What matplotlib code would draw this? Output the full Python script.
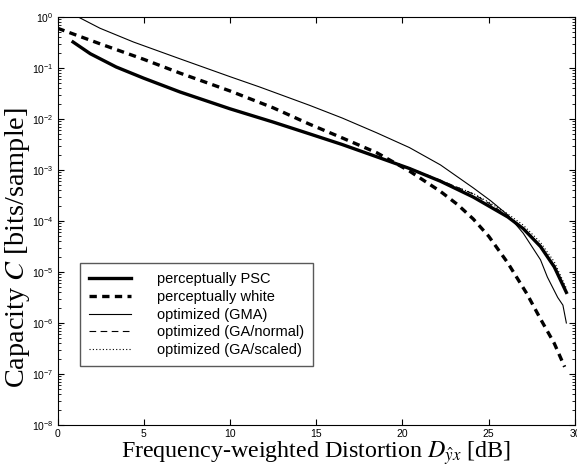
import numpy as np
import matplotlib
matplotlib.use("Agg")
import matplotlib.pyplot as plt
from matplotlib.ticker import LogLocator, NullFormatter

plt.rcParams['font.family'] = ['Liberation Sans', 'DejaVu Sans']
plt.rcParams['mathtext.fontset'] = 'stix'

# distortion [dB] and log10 capacity [bits/sample]
x_psc = [0.9, 1.9, 3.4, 5.0, 7.1, 10.0, 12.5, 14.6, 16.5, 18.5, 20.4, 22.2, 24.1, 26.1, 27.0, 28.0, 28.8, 29.5]
c_psc = [-0.49, -0.72, -0.98, -1.20, -1.47, -1.80, -2.06, -2.29, -2.50, -2.74, -2.97, -3.22, -3.53, -3.92, -4.15, -4.50, -4.90, -5.40]

x_white = [0.0, 2.5, 5.0, 7.1, 10.0, 12.5, 14.6, 16.5, 18.5, 20.4, 22.2, 23.2, 24.1, 25.0, 26.1, 27.2, 28.0, 28.8, 29.4]
c_white = [-0.22, -0.53, -0.83, -1.10, -1.45, -1.78, -2.10, -2.37, -2.66, -3.02, -3.42, -3.68, -3.96, -4.30, -4.82, -5.42, -5.92, -6.40, -6.86]

x_gma = [1.2, 2.46, 4.4, 7.1, 10.0, 11.7, 14.6, 16.5, 18.5, 20.4, 22.2, 24.1, 25.1, 26.1, 27.0, 28.0, 28.4, 29.0, 29.3, 29.5]
c_gma = [0.0, -0.22, -0.49, -0.82, -1.17, -1.37, -1.73, -1.98, -2.27, -2.56, -2.90, -3.35, -3.60, -3.88, -4.24, -4.76, -5.10, -5.50, -5.65, -6.00]

x_ga_norm = [0.9, 1.9, 3.4, 5.0, 7.1, 10.0, 12.5, 14.6, 16.5, 18.5, 20.4, 22.2, 24.1, 25.0, 26.1, 27.0, 28.0, 28.8, 29.5]
c_ga_norm = [-0.49, -0.72, -0.98, -1.20, -1.47, -1.80, -2.06, -2.29, -2.50, -2.73, -2.96, -3.20, -3.47, -3.65, -3.90, -4.14, -4.48, -4.88, -5.38]

x_ga_scal = [0.9, 1.9, 3.4, 5.0, 7.1, 10.0, 12.5, 14.6, 16.5, 18.5, 20.4, 22.2, 24.1, 25.0, 26.1, 27.0, 28.0, 28.8, 29.5]
c_ga_scal = [-0.49, -0.72, -0.98, -1.20, -1.47, -1.80, -2.06, -2.29, -2.50, -2.74, -2.97, -3.21, -3.46, -3.63, -3.86, -4.08, -4.42, -4.80, -5.32]

labels = ['perceptually PSC', 'perceptually white', 'optimized (GMA)',
          'optimized (GA/normal)', 'optimized (GA/scaled)']

fig = plt.figure(figsize=(5.77, 4.66), dpi=100)
ax = fig.add_axes([0.0997, 0.088, 0.8968, 0.8755])

ax.semilogy(x_psc, np.power(10.0, c_psc), color='k', lw=2.4, label=labels[0])
ax.semilogy(x_white, np.power(10.0, c_white), color='k', lw=2.4, ls=(0, (2.2, 1.6)), label=labels[1])
ax.semilogy(x_gma, np.power(10.0, c_gma), color='k', lw=0.8, label=labels[2])
ax.semilogy(x_ga_norm, np.power(10.0, c_ga_norm), color='k', lw=0.8, ls=(0, (6, 4)), label=labels[3])
ax.semilogy(x_ga_scal, np.power(10.0, c_ga_scal), color='k', lw=0.8, ls=(0, (1, 2)), label=labels[4])

ax.set_xlim(0, 30)
ax.set_ylim(1e-8, 1)
ax.set_xticks([0, 5, 10, 15, 20, 25, 30])
ax.yaxis.set_major_locator(LogLocator(base=10, numticks=12))
ax.yaxis.set_minor_locator(LogLocator(base=10, subs=np.arange(2, 10), numticks=12))
ax.yaxis.set_minor_formatter(NullFormatter())
ax.tick_params(which='both', direction='in', top=True, right=True, labelsize=7.5, pad=3)
ax.tick_params(which='major', length=4)
ax.tick_params(which='minor', length=2)
for s in ax.spines.values():
    s.set_linewidth(0.8)

ax.set_xlabel(r'Frequency-weighted Distortion $D_{\hat{y}x}$ [dB]',
              family='Liberation Serif', fontsize=17.3, labelpad=0)
ax.set_ylabel(r'Capacity $C$ [bits/sample]', family='Liberation Serif', fontsize=20.3)
ax.yaxis.set_label_coords(-0.049, 0.434)

leg = ax.legend(loc='lower left', bbox_to_anchor=(0.0435, 0.1446), fontsize=10.5,
                fancybox=False, framealpha=1, edgecolor='0.35', borderpad=0.62,
                handlelength=2.9, handletextpad=1.75, labelspacing=0.25, borderaxespad=0)
leg.get_frame().set_linewidth(1.0)

fig.savefig('out.png', dpi=100)
